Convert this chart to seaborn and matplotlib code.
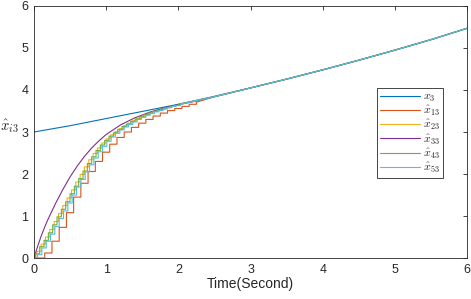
import numpy as np
import pandas as pd
import matplotlib
matplotlib.use("Agg")
import matplotlib.pyplot as plt
import seaborn as sns

# ---- data ----
t_x3 = [0.0, 0.5, 1.0, 1.5, 2.0, 2.5, 3.0, 3.5, 4.0, 4.5, 5.0, 5.5, 6.0]
v_x3 = [3.00, 3.15, 3.32, 3.49, 3.66, 3.85, 4.05, 4.26, 4.48, 4.71, 4.95, 5.20, 5.47]

# smooth estimate x̂33
t_x33 = [0.0, 0.05, 0.1, 0.15, 0.2, 0.3, 0.4, 0.5, 0.6, 0.7, 0.8, 0.9, 1.0, 1.2,
         1.4, 1.6, 1.8, 2.0, 2.2, 2.5, 3.0]
v_x33 = [0.0, 0.27, 0.52, 0.74, 0.94, 1.30, 1.63, 1.93, 2.19, 2.42, 2.62, 2.79, 2.94,
         3.17, 3.34, 3.47, 3.57, 3.65, 3.72, 3.84, 4.05]

# staircase estimate x̂13 (period 0.1 s, starts at 0.15 s)
t_x13 = [0.0, 0.15, 0.25, 0.35, 0.45, 0.55, 0.65, 0.75, 0.85, 0.95, 1.05, 1.15, 1.25,
         1.35, 1.45, 1.55, 1.65, 1.75, 1.85, 1.95, 2.05, 2.15, 2.25]
v_x13 = [0.0, 0.12, 0.40, 0.73, 1.08, 1.45, 1.78, 2.06, 2.30, 2.52, 2.71, 2.87, 3.00,
         3.11, 3.21, 3.30, 3.38, 3.45, 3.51, 3.56, 3.61, 3.66, 3.71]

# staircase estimates x̂23, x̂43, x̂53 (period 0.06 s)
t_x23 = [0.0, 0.04, 0.10, 0.16, 0.22, 0.28, 0.34, 0.40, 0.46, 0.52, 0.58, 0.64, 0.70,
         0.76, 0.82, 0.88, 0.94, 1.00, 1.06, 1.12, 1.18, 1.24, 1.30, 1.36, 1.42, 1.48,
         1.54, 1.60, 1.66, 1.72, 1.78, 1.84, 1.90, 1.96, 2.02]
v_x23 = [0.0, 0.16, 0.33, 0.50, 0.68, 0.87, 1.06, 1.25, 1.43, 1.62, 1.81, 1.99, 2.17,
         2.34, 2.49, 2.62, 2.74, 2.84, 2.93, 3.01, 3.08, 3.15, 3.21, 3.27, 3.32, 3.37,
         3.41, 3.45, 3.49, 3.52, 3.55, 3.58, 3.61, 3.63, 3.66]

t_x43 = [0.0, 0.02, 0.08, 0.14, 0.20, 0.26, 0.32, 0.38, 0.44, 0.50, 0.56, 0.62, 0.68,
         0.74, 0.80, 0.86, 0.92, 0.98, 1.04, 1.10, 1.16, 1.22, 1.28, 1.34, 1.40, 1.46,
         1.52, 1.58, 1.64, 1.70, 1.76, 1.82, 1.88, 1.94, 2.00]
v_x43 = [0.0, 0.10, 0.27, 0.42, 0.60, 0.79, 0.98, 1.16, 1.34, 1.53, 1.71, 1.89, 2.07,
         2.25, 2.41, 2.56, 2.69, 2.80, 2.90, 2.98, 3.06, 3.13, 3.19, 3.25, 3.31, 3.36,
         3.41, 3.45, 3.49, 3.52, 3.55, 3.58, 3.61, 3.63, 3.66]

t_x53 = [0.0, 0.05, 0.11, 0.17, 0.23, 0.29, 0.35, 0.41, 0.47, 0.53, 0.59, 0.65, 0.71,
         0.77, 0.83, 0.89, 0.95, 1.01, 1.07, 1.13, 1.19, 1.25, 1.31, 1.37, 1.43, 1.49,
         1.55, 1.61, 1.67, 1.73, 1.79, 1.85, 1.91, 1.97, 2.03]
v_x53 = [0.0, 0.08, 0.24, 0.40, 0.57, 0.75, 0.94, 1.12, 1.31, 1.50, 1.69, 1.87, 2.05,
         2.22, 2.38, 2.53, 2.66, 2.78, 2.88, 2.97, 3.05, 3.12, 3.18, 3.24, 3.30, 3.35,
         3.40, 3.44, 3.48, 3.51, 3.55, 3.58, 3.61, 3.63, 3.66]

# common tail where all estimates have converged onto x3
t_tail = [2.5, 3.0, 3.5, 4.0, 4.5, 5.0, 5.5, 6.0]
v_tail = [3.84, 4.05, 4.26, 4.48, 4.71, 4.95, 5.20, 5.47]

labels = [r'$x_3$', r'$\hat{x}_{13}$', r'$\hat{x}_{23}$', r'$\hat{x}_{33}$',
          r'$\hat{x}_{43}$', r'$\hat{x}_{53}$']
colors = ['#0072BD', '#D95319', '#EDB120', '#7E2F8E', '#77AC30', '#4DBEEE']


def stairs(t, v):
    """vertices of a sample-and-hold curve"""
    t = np.asarray(t, float)
    v = np.asarray(v, float)
    xs = np.empty(2 * len(t) - 1)
    ys = np.empty(2 * len(t) - 1)
    xs[0::2] = t
    ys[0::2] = v
    xs[1::2] = t[1:]
    ys[1::2] = v[:-1]
    return xs, ys


def with_tail(xs, ys):
    return np.concatenate([xs, t_tail]), np.concatenate([ys, v_tail])


series = []
series.append((np.array(t_x3, float), np.array(v_x3, float)))
series.append(with_tail(*stairs(t_x13, v_x13)))
series.append(with_tail(*stairs(t_x23, v_x23)))
series.append(with_tail(np.array(t_x33[:-1], float), np.array(v_x33[:-1], float)))
series.append(with_tail(*stairs(t_x43, v_x43)))
series.append(with_tail(*stairs(t_x53, v_x53)))

sns.set_style('white')
plt.rcParams['font.family'] = ['Liberation Sans', 'DejaVu Sans']
plt.rcParams['mathtext.fontset'] = 'cm'

fig = plt.figure(figsize=(4.71, 2.99), dpi=100)
ax = fig.add_axes([0.072, 0.137, 0.920, 0.843])

for (xs, ys), lab, col in zip(series, labels, colors):
    df = pd.DataFrame({'t': xs, 'y': ys})
    sns.lineplot(data=df, x='t', y='y', ax=ax, sort=False, estimator=None,
                 color=col, linewidth=0.8, label=lab)

ax.set_xlim(0, 6)
ax.set_ylim(0, 6)
ax.set_xticks(range(0, 7))
ax.set_yticks(range(0, 7))
ax.tick_params(direction='in', length=3, width=0.6, labelsize=9,
               colors='#262626', top=True, right=True, pad=4)
for s in ax.spines.values():
    s.set_visible(True)
    s.set_color('#262626')
    s.set_linewidth(0.6)

ax.set_xlabel('Time(Second)', fontsize=10, color='#262626', labelpad=1)
ax.set_ylabel('')
fig.text(0.0, 1 - 126 / 299, r'$\hat{x}_{i3}$', fontsize=10.5, color='#262626',
         ha='left', va='center')

leg = ax.legend(loc='upper left', bbox_to_anchor=(0.792, 0.675), fontsize=8.5,
                frameon=True, fancybox=False, framealpha=1, edgecolor='#262626',
                handlelength=3.4, handletextpad=0.25, borderpad=0.25,
                labelspacing=0.0, borderaxespad=0)
leg.get_frame().set_linewidth(0.6)

fig.savefig('out.png', dpi=100)
